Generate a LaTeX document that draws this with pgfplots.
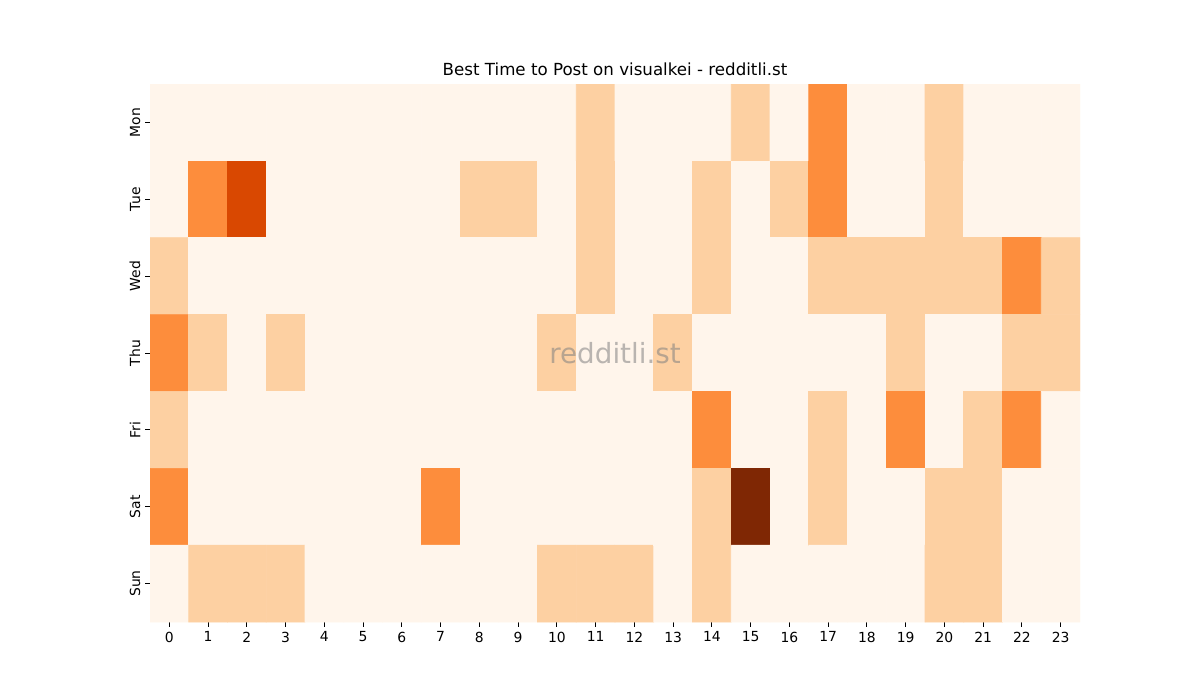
\documentclass[border=0pt]{standalone}
\usepackage{pgfplots}
\pgfplotsset{compat=1.18}
\usepackage{fontspec}
\setmainfont{DejaVu Sans}
\pgfplotstableread[row sep=\\]{
x y c\\
0 0 0\\ 1 0 0\\ 2 0 0\\ 3 0 0\\ 4 0 0\\ 5 0 0\\ 6 0 0\\ 7 0 0\\ 8 0 0\\ 9 0 0\\ 10 0 0\\ 11 0 1\\ 12 0 0\\ 13 0 0\\ 14 0 0\\ 15 0 1\\ 16 0 0\\ 17 0 2\\ 18 0 0\\ 19 0 0\\ 20 0 1\\ 21 0 0\\ 22 0 0\\ 23 0 0\\
0 1 0\\ 1 1 2\\ 2 1 3\\ 3 1 0\\ 4 1 0\\ 5 1 0\\ 6 1 0\\ 7 1 0\\ 8 1 1\\ 9 1 1\\ 10 1 0\\ 11 1 1\\ 12 1 0\\ 13 1 0\\ 14 1 1\\ 15 1 0\\ 16 1 1\\ 17 1 2\\ 18 1 0\\ 19 1 0\\ 20 1 1\\ 21 1 0\\ 22 1 0\\ 23 1 0\\
0 2 1\\ 1 2 0\\ 2 2 0\\ 3 2 0\\ 4 2 0\\ 5 2 0\\ 6 2 0\\ 7 2 0\\ 8 2 0\\ 9 2 0\\ 10 2 0\\ 11 2 1\\ 12 2 0\\ 13 2 0\\ 14 2 1\\ 15 2 0\\ 16 2 0\\ 17 2 1\\ 18 2 1\\ 19 2 1\\ 20 2 1\\ 21 2 1\\ 22 2 2\\ 23 2 1\\
0 3 2\\ 1 3 1\\ 2 3 0\\ 3 3 1\\ 4 3 0\\ 5 3 0\\ 6 3 0\\ 7 3 0\\ 8 3 0\\ 9 3 0\\ 10 3 1\\ 11 3 0\\ 12 3 0\\ 13 3 1\\ 14 3 0\\ 15 3 0\\ 16 3 0\\ 17 3 0\\ 18 3 0\\ 19 3 1\\ 20 3 0\\ 21 3 0\\ 22 3 1\\ 23 3 1\\
0 4 1\\ 1 4 0\\ 2 4 0\\ 3 4 0\\ 4 4 0\\ 5 4 0\\ 6 4 0\\ 7 4 0\\ 8 4 0\\ 9 4 0\\ 10 4 0\\ 11 4 0\\ 12 4 0\\ 13 4 0\\ 14 4 2\\ 15 4 0\\ 16 4 0\\ 17 4 1\\ 18 4 0\\ 19 4 2\\ 20 4 0\\ 21 4 1\\ 22 4 2\\ 23 4 0\\
0 5 2\\ 1 5 0\\ 2 5 0\\ 3 5 0\\ 4 5 0\\ 5 5 0\\ 6 5 0\\ 7 5 2\\ 8 5 0\\ 9 5 0\\ 10 5 0\\ 11 5 0\\ 12 5 0\\ 13 5 0\\ 14 5 1\\ 15 5 4\\ 16 5 0\\ 17 5 1\\ 18 5 0\\ 19 5 0\\ 20 5 1\\ 21 5 1\\ 22 5 0\\ 23 5 0\\
0 6 0\\ 1 6 1\\ 2 6 1\\ 3 6 1\\ 4 6 0\\ 5 6 0\\ 6 6 0\\ 7 6 0\\ 8 6 0\\ 9 6 0\\ 10 6 1\\ 11 6 1\\ 12 6 1\\ 13 6 0\\ 14 6 1\\ 15 6 0\\ 16 6 0\\ 17 6 0\\ 18 6 0\\ 19 6 0\\ 20 6 1\\ 21 6 1\\ 22 6 0\\ 23 6 0\\
}\heat
\begin{document}
\begin{tikzpicture}
\useasboundingbox (0,0) rectangle (864bp,504bp);
\begin{axis}[
  at={(108bp,56.16bp)}, anchor=south west,
  scale only axis, width=669.6bp, height=387.36bp,
  xmin=-0.5, xmax=23.5, ymin=-0.5, ymax=6.5, y dir=reverse,
  xtick={0,...,23}, ytick={0,...,6},
  yticklabels={Mon,Tue,Wed,Thu,Fri,Sat,Sun},
  yticklabel style={rotate=90, anchor=south, font=\fontsize{10bp}{12bp}\selectfont},
  xticklabel style={font=\fontsize{10bp}{12bp}\selectfont},
  tick pos=left, tick align=outside,
  major tick length=3.5bp, tick style={black, line width=0.6bp},
  axis line style={draw=none},
  colormap={oranges}{rgb255=(255,245,235) rgb255=(254,230,206) rgb255=(253,208,162) rgb255=(253,174,107) rgb255=(253,141,60) rgb255=(241,105,19) rgb255=(217,72,1) rgb255=(166,54,3) rgb255=(127,39,4)},
  point meta min=0, point meta max=4,
  /pgf/number format/assume math mode=true,
]
\addplot[matrix plot*, mesh/cols=24, mesh/ordering=x varies, point meta=explicit, shader=flat corner] table[x=x, y=y, meta=c] {\heat};
\node[text=gray, opacity=0.55, font=\fontsize{20bp}{24bp}\selectfont] at (axis cs:11.5,3) {redditli.st};
\end{axis}
\node[anchor=base, font=\fontsize{12bp}{14bp}\selectfont] at (442.8bp,449.5bp) {Best Time to Post on visualkei - redditli.st};
\end{tikzpicture}
\end{document}
